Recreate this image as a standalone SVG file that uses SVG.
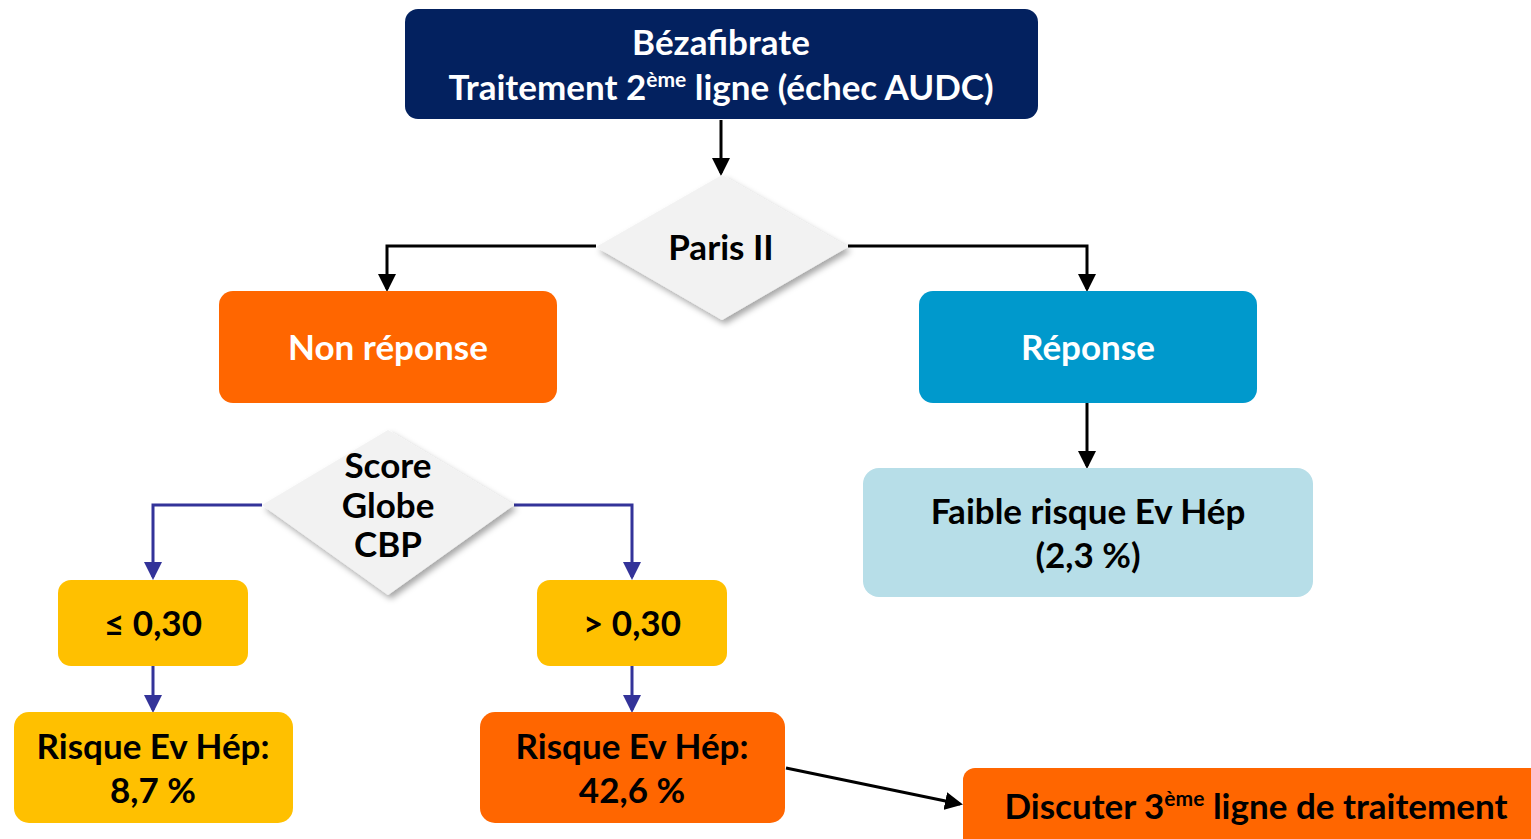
<svg xmlns="http://www.w3.org/2000/svg" width="1531" height="839" viewBox="0 0 1531 839">
<style>
text{font-family:Lato,"Open Sans","Liberation Sans",sans-serif;font-weight:bold;font-size:35px;text-anchor:middle}
.w{fill:#fff}.k{fill:#000}
.sup{font-size:21px}
.blk{stroke:#000;stroke-width:3;fill:none}
.blu{stroke:#333399;stroke-width:3;fill:none}
.dia{fill:#F2F2F2;filter:url(#sh)}
</style>
<defs>
<marker id="ak" markerWidth="6" markerHeight="6" refX="5" refY="3" orient="auto" markerUnits="strokeWidth"><path d="M0,0L6,3L0,6z" fill="#000"/></marker>
<marker id="ab" markerWidth="6" markerHeight="6" refX="5" refY="3" orient="auto" markerUnits="strokeWidth"><path d="M0,0L6,3L0,6z" fill="#333399"/></marker>
<filter id="sh" x="-20%" y="-20%" width="150%" height="150%"><feDropShadow dx="3" dy="4" stdDeviation="3" flood-color="#000" flood-opacity="0.35"/></filter>
</defs>
<g id="connectors">
<path class="blk" d="M721,120V173" marker-end="url(#ak)"/>
<path class="blk" d="M596,246H387V289" marker-end="url(#ak)"/>
<path class="blk" d="M848,246H1087V289" marker-end="url(#ak)"/>
<path class="blk" d="M1087,403V466" marker-end="url(#ak)"/>
<path class="blu" d="M262,505H153V577" marker-end="url(#ab)"/>
<path class="blu" d="M514,505H632V577" marker-end="url(#ab)"/>
<path class="blu" d="M153,666V710" marker-end="url(#ab)"/>
<path class="blu" d="M632,666V710" marker-end="url(#ab)"/>
<path class="blk" d="M786,768L960,804" marker-end="url(#ak)"/>
</g>
<g id="n-beza">
<rect x="405" y="9" width="633" height="110" rx="13" fill="#03215F"/>
<text class="w" x="721" y="55">Bézafibrate</text>
<text class="w" x="721" y="100">Traitement 2<tspan class="sup" dy="-13">ème</tspan><tspan dy="13"> ligne (échec AUDC)</tspan></text>
</g>
<g id="n-paris">
<polygon class="dia" points="722,175 848,247 722,320 596,247"/>
<text class="k" x="721" y="260">Paris II</text>
</g>
<g id="n-nonrep">
<rect x="219" y="291" width="338" height="112" rx="14" fill="#FF6600"/>
<text class="w" x="388" y="360">Non réponse</text>
</g>
<g id="n-rep">
<rect x="919" y="291" width="338" height="112" rx="14" fill="#0099CC"/>
<text class="w" x="1088" y="360">Réponse</text>
</g>
<g id="n-faible">
<rect x="863" y="468" width="450" height="129" rx="16" fill="#B7DEE8"/>
<text class="k" x="1088" y="524">Faible risque Ev Hép</text>
<text class="k" x="1088" y="568">(2,3 %)</text>
</g>
<g id="n-score">
<polygon class="dia" points="388,430 514,505 388,595 262,505"/>
<text class="k" x="388" y="478">Score</text>
<text class="k" x="388" y="518">Globe</text>
<text class="k" x="388" y="557">CBP</text>
</g>
<g id="n-le">
<rect x="58" y="580" width="190" height="86" rx="13" fill="#FFC000"/>
<text class="k" x="153" y="636">≤ 0,30</text>
</g>
<g id="n-gt">
<rect x="537" y="580" width="190" height="86" rx="13" fill="#FFC000"/>
<text class="k" x="632" y="636">&gt; 0,30</text>
</g>
<g id="n-r87">
<rect x="14" y="712" width="279" height="111" rx="15" fill="#FFC000"/>
<text class="k" x="153" y="759">Risque Ev Hép:</text>
<text class="k" x="153" y="803">8,7 %</text>
</g>
<g id="n-r426">
<rect x="480" y="712" width="305" height="111" rx="15" fill="#FF6600"/>
<text class="k" x="632" y="759">Risque Ev Hép:</text>
<text class="k" x="632" y="803">42,6 %</text>
</g>
<g id="n-disc">
<rect x="963" y="768" width="590" height="90" rx="12" fill="#FF6600"/>
<text class="k" x="1256" y="819">Discuter 3<tspan class="sup" dy="-13">ème</tspan><tspan dy="13"> ligne de traitement</tspan></text>
</g>
</svg>
